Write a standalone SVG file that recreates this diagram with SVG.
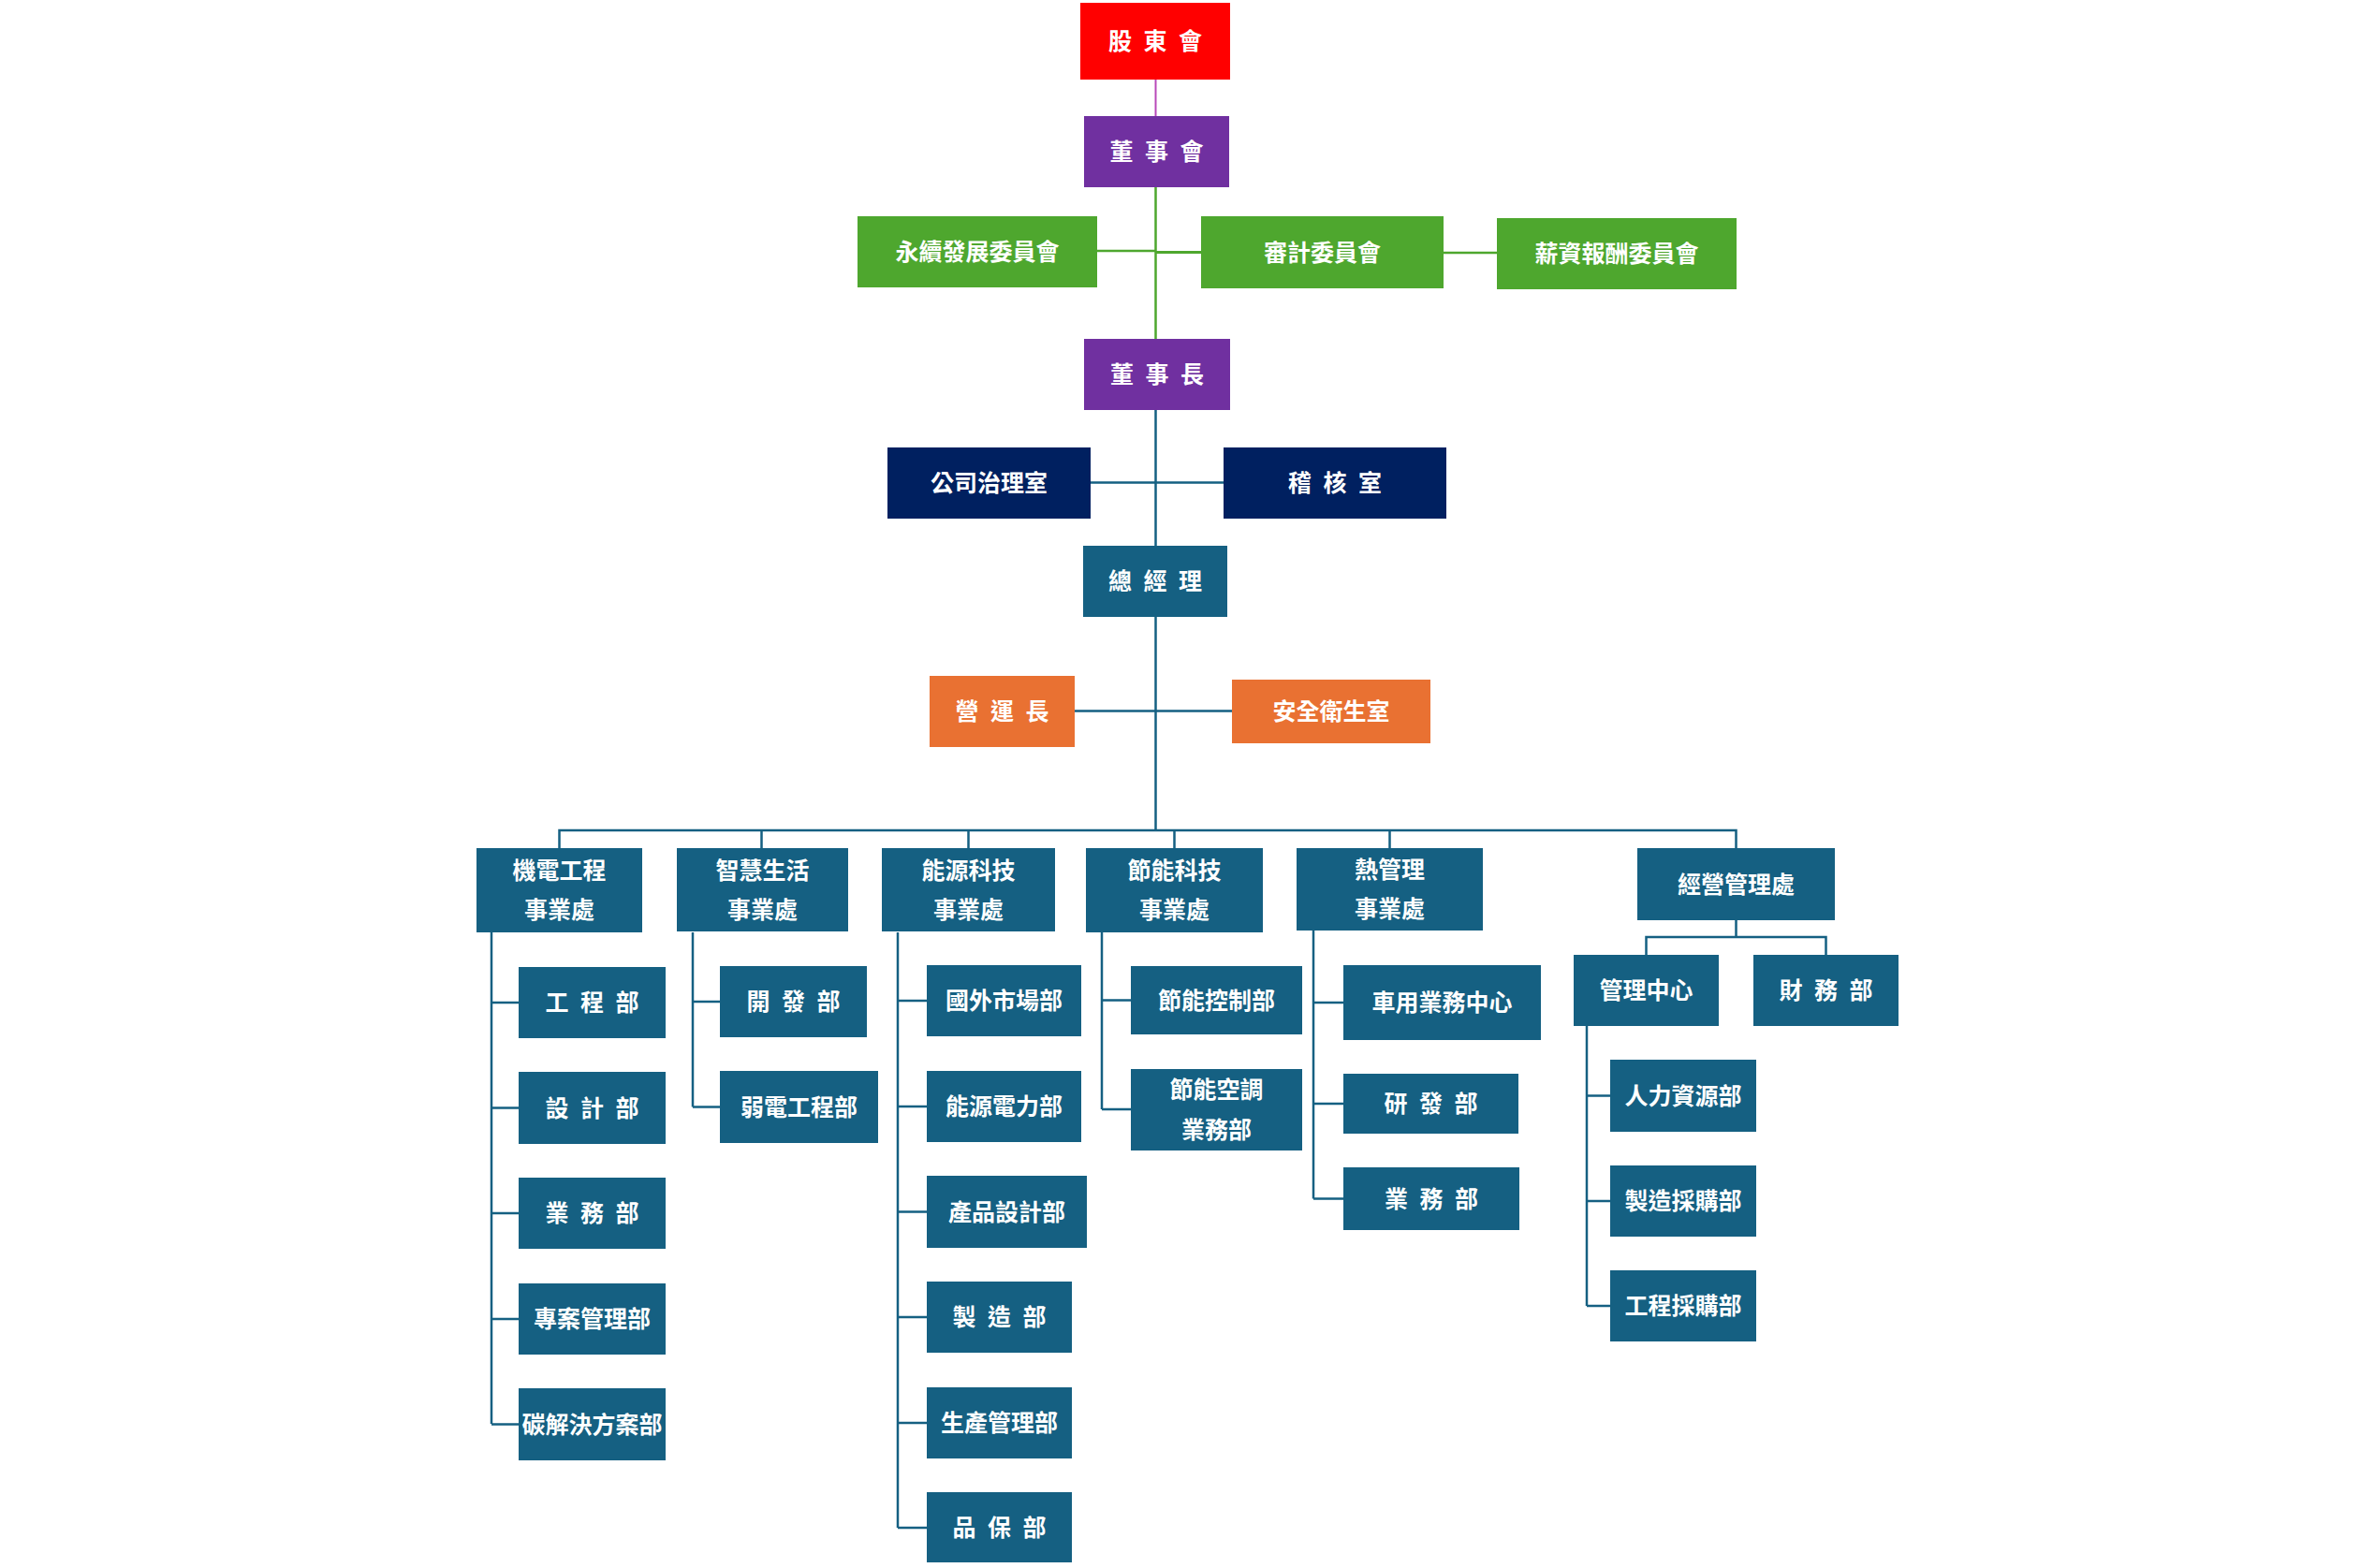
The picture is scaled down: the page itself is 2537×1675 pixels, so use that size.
<svg xmlns="http://www.w3.org/2000/svg" width="2537" height="1675" viewBox="0 0 2537 1675">
<style>
.red{fill:#FF0000}.pur{fill:#7030A0}.grn{fill:#4EA72E}.nav{fill:#002060}.tea{fill:#156082}.org{fill:#E97132}
.t{font-family:"Noto Sans CJK TC","Noto Sans CJK SC",sans-serif;font-size:25px;font-weight:700;fill:#FFFFFF;text-anchor:middle}
.c{fill:none;stroke:#156082;stroke-width:2.5}
.cg{fill:none;stroke:#4EA72E;stroke-width:2.5}
.cp{fill:none;stroke:#B848B8;stroke-width:2}
</style>
<rect width="2537" height="1675" fill="#FFFFFF"/>
<g id="connectors">
<path class="cp" d="M1234.5 85V124"/>
<path class="cg" d="M1234.5 200V362M1172 268H1234.5M1542 270H1599"/>
<path class="cg" d="M1234.5 269.5H1283" style="stroke-width:3"/>
<path class="c" d="M1234.5 438V583M1165 515.5H1307M1234.5 659V887M1148 759.5H1316"/>
<path class="c" d="M597.5 906V887H1854.5V906M813.5 887V906M1034.5 887V906M1254.5 887V906M1484.5 887V906"/>
<path class="c" d="M525 996V1521M525 1071H554M525 1183.5H554M525 1296H554M525 1409H554M525 1521.5H554"/>
<path class="c" d="M740 996V1182.5M740 1070H769M740 1182.5H769"/>
<path class="c" d="M959 996V1632M959 1069H990M959 1182H990M959 1294.5H990M959 1407H990M959 1520H990M959 1632H990"/>
<path class="c" d="M1177 996V1185M1177 1068.5H1208M1177 1185H1208"/>
<path class="c" d="M1403 994V1280.5M1403 1071H1435M1403 1179H1435M1403 1280.5H1435"/>
<path class="c" d="M1854.5 983V1001M1758.5 1020V1001H1950.5V1020"/>
<path class="c" d="M1695 1096V1395M1695 1170.5H1720M1695 1283H1720M1695 1395H1720"/>
</g>
<g id="n-gudonghui"><rect class="red" x="1154" y="3" width="160" height="82"/><text class="t" x="1196.5 1234 1271.5" y="53">股東會</text></g>
<g id="n-dongshihui"><rect class="pur" x="1158" y="124" width="155" height="76"/><text class="t" x="1198 1235.5 1273" y="171">董事會</text></g>
<g id="n-yongxu"><rect class="grn" x="916" y="231" width="256" height="76"/><text class="t" x="1044" y="278">永續發展委員會</text></g>
<g id="n-shenji"><rect class="grn" x="1283" y="231" width="259" height="77"/><text class="t" x="1412.5" y="278.5">審計委員會</text></g>
<g id="n-xinzi"><rect class="grn" x="1599" y="233" width="256" height="76"/><text class="t" x="1727" y="280">薪資報酬委員會</text></g>
<g id="n-dongshizhang"><rect class="pur" x="1158" y="362" width="156" height="76"/><text class="t" x="1198.5 1236 1273.5" y="409">董事長</text></g>
<g id="n-zhili"><rect class="nav" x="948" y="478" width="217" height="76"/><text class="t" x="1056.5" y="525">公司治理室</text></g>
<g id="n-jihe"><rect class="nav" x="1307" y="478" width="238" height="76"/><text class="t" x="1388.5 1426 1463.5" y="525">稽核室</text></g>
<g id="n-zongjingli"><rect class="tea" x="1157" y="583" width="154" height="76"/><text class="t" x="1196.5 1234 1271.5" y="630">總經理</text></g>
<g id="n-yunying"><rect class="org" x="993" y="722" width="155" height="76"/><text class="t" x="1033 1070.5 1108" y="769">營運長</text></g>
<g id="n-anquan"><rect class="org" x="1316" y="726" width="212" height="68"/><text class="t" x="1422" y="769">安全衛生室</text></g>
<g id="n-jidian"><rect class="tea" x="509" y="906" width="177" height="90"/><text class="t" x="597.5" y="939">機電工程</text><text class="t" x="597.5" y="981">事業處</text></g>
<g id="n-zhihui"><rect class="tea" x="723" y="906" width="183" height="89"/><text class="t" x="814.5" y="939">智慧生活</text><text class="t" x="814.5" y="981">事業處</text></g>
<g id="n-nengyuan"><rect class="tea" x="942" y="906" width="185" height="89"/><text class="t" x="1034.5" y="939">能源科技</text><text class="t" x="1034.5" y="981">事業處</text></g>
<g id="n-jieneng"><rect class="tea" x="1160" y="906" width="189" height="90"/><text class="t" x="1254.5" y="939">節能科技</text><text class="t" x="1254.5" y="981">事業處</text></g>
<g id="n-reguanli"><rect class="tea" x="1385" y="906" width="199" height="88"/><text class="t" x="1484.5" y="938">熱管理</text><text class="t" x="1484.5" y="980">事業處</text></g>
<g id="n-jingying"><rect class="tea" x="1749" y="906" width="211" height="77"/><text class="t" x="1854.5" y="953.5">經營管理處</text></g>
<g id="n-gongcheng"><rect class="tea" x="554" y="1033" width="157" height="76"/><text class="t" x="595 632.5 670" y="1080">工程部</text></g>
<g id="n-sheji"><rect class="tea" x="554" y="1145" width="157" height="77"/><text class="t" x="595 632.5 670" y="1192.5">設計部</text></g>
<g id="n-yewu1"><rect class="tea" x="554" y="1258" width="157" height="76"/><text class="t" x="595 632.5 670" y="1305">業務部</text></g>
<g id="n-zhuanan"><rect class="tea" x="554" y="1371" width="157" height="76"/><text class="t" x="632.5" y="1418">專案管理部</text></g>
<g id="n-tan"><rect class="tea" x="554" y="1483" width="157" height="77"/><text class="t" x="632.5" y="1530.5">碳解決方案部</text></g>
<g id="n-kaifa"><rect class="tea" x="769" y="1032" width="157" height="76"/><text class="t" x="810 847.5 885" y="1079">開發部</text></g>
<g id="n-ruodian"><rect class="tea" x="769" y="1144" width="169" height="77"/><text class="t" x="853.5" y="1191.5">弱電工程部</text></g>
<g id="n-guowai"><rect class="tea" x="990" y="1031" width="165" height="76"/><text class="t" x="1072.5" y="1078">國外市場部</text></g>
<g id="n-dianli"><rect class="tea" x="990" y="1144" width="165" height="76"/><text class="t" x="1072.5" y="1191">能源電力部</text></g>
<g id="n-chanpin"><rect class="tea" x="990" y="1256" width="171" height="77"/><text class="t" x="1075.5" y="1303.5">產品設計部</text></g>
<g id="n-zhizao"><rect class="tea" x="990" y="1369" width="155" height="76"/><text class="t" x="1030 1067.5 1105" y="1416">製造部</text></g>
<g id="n-shengchan"><rect class="tea" x="990" y="1482" width="155" height="76"/><text class="t" x="1067.5" y="1529">生產管理部</text></g>
<g id="n-pinbao"><rect class="tea" x="990" y="1594" width="155" height="75"/><text class="t" x="1030 1067.5 1105" y="1640.5">品保部</text></g>
<g id="n-kongzhi"><rect class="tea" x="1208" y="1032" width="183" height="73"/><text class="t" x="1299.5" y="1077.5">節能控制部</text></g>
<g id="n-kongtiao"><rect class="tea" x="1208" y="1142" width="183" height="87"/><text class="t" x="1299.5" y="1173">節能空調</text><text class="t" x="1299.5" y="1216">業務部</text></g>
<g id="n-cheyong"><rect class="tea" x="1435" y="1031" width="211" height="80"/><text class="t" x="1540.5" y="1080">車用業務中心</text></g>
<g id="n-yanfa"><rect class="tea" x="1435" y="1147" width="187" height="64"/><text class="t" x="1491 1528.5 1566" y="1188">研發部</text></g>
<g id="n-yewu2"><rect class="tea" x="1435" y="1247" width="188" height="67"/><text class="t" x="1491.5 1529 1566.5" y="1289.5">業務部</text></g>
<g id="n-guanli"><rect class="tea" x="1681" y="1020" width="155" height="76"/><text class="t" x="1758.5" y="1067">管理中心</text></g>
<g id="n-caiwu"><rect class="tea" x="1873" y="1020" width="155" height="76"/><text class="t" x="1913 1950.5 1988" y="1067">財務部</text></g>
<g id="n-renli"><rect class="tea" x="1720" y="1132" width="156" height="77"/><text class="t" x="1798" y="1179.5">人力資源部</text></g>
<g id="n-zhizaocaigou"><rect class="tea" x="1720" y="1245" width="156" height="76"/><text class="t" x="1798" y="1292">製造採購部</text></g>
<g id="n-gongchengcaigou"><rect class="tea" x="1720" y="1357" width="156" height="76"/><text class="t" x="1798" y="1404">工程採購部</text></g>
</svg>
